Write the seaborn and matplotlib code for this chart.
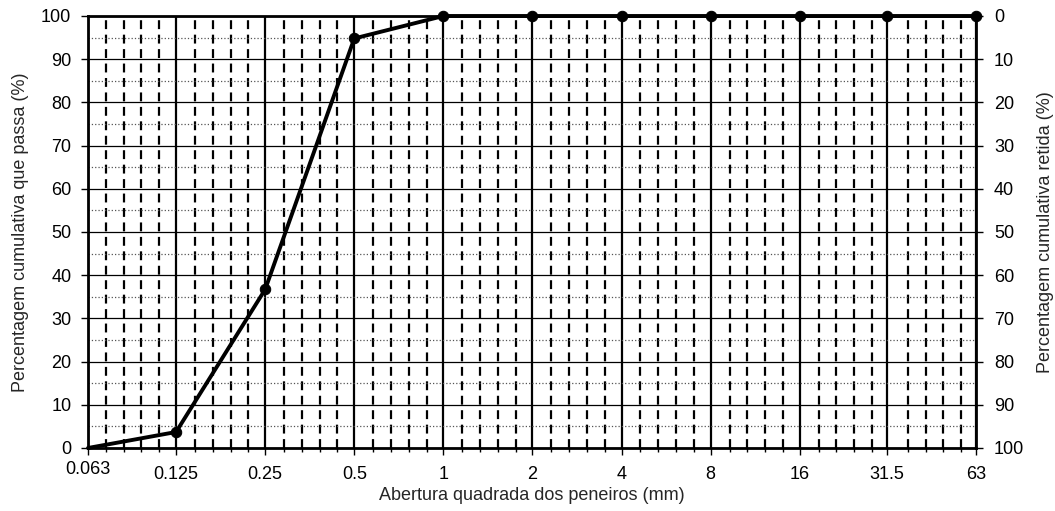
import matplotlib
matplotlib.use('Agg')
import matplotlib.pyplot as plt
import matplotlib.ticker as mticker
from matplotlib.transforms import ScaledTranslation
import seaborn as sns
import pandas as pd

# sieve openings (mm) and cumulative % passing
sieves = [0.063, 0.125, 0.25, 0.5, 1, 2, 4, 8, 16, 31.5, 63]
passing = [0, 3.7, 36.7, 94.8, 100, 100, 100, 100, 100, 100, 100]
tick_labels = ['0.063', '0.125', '0.25', '0.5', '1', '2', '4', '8', '16', '31.5', '63']
y_ticks = list(range(0, 101, 10))

sns.set_style('white')
plt.rcParams['font.family'] = ['Liberation Sans', 'DejaVu Sans']

fig = plt.figure(figsize=(10.55, 5.11), dpi=100)
ax = fig.add_axes([0.0834, 0.1233, 0.8417, 0.8454])

df = pd.DataFrame({'abertura': sieves, 'passa': passing})
sns.lineplot(data=df, x='abertura', y='passa', ax=ax, color='black',
             linewidth=2.8, marker='o', markersize=7.5, markevery=list(range(1, len(sieves))),
             markeredgecolor='black', clip_on=False, zorder=5)

ax.set_xscale('log', base=2)
ax.set_xlim(0.063, 63)
ax.set_ylim(0, 100)

# major x ticks at each sieve, minor dashed lines dividing each interval in 5
ax.xaxis.set_major_locator(mticker.FixedLocator(sieves))
ax.xaxis.set_major_formatter(mticker.FixedFormatter(tick_labels))
minor = [0.063 * 2 ** (i + j / 5) for i in range(10) for j in range(1, 5)]
ax.xaxis.set_minor_locator(mticker.FixedLocator(minor))
ax.xaxis.set_minor_formatter(mticker.NullFormatter())

ax.yaxis.set_major_locator(mticker.FixedLocator(y_ticks))
ax.yaxis.set_minor_locator(mticker.MultipleLocator(5))

ax.grid(axis='x', which='major', color='black', linewidth=1.6, linestyle='-')
ax.grid(axis='x', which='minor', color='black', linewidth=1.6, linestyle=(0, (4, 2.5)))
ax.grid(axis='y', which='major', color='black', linewidth=0.9, linestyle='-')
ax.grid(axis='y', which='minor', color='#555555', linewidth=0.9, linestyle=':')
ax.set_axisbelow(True)

ax.tick_params(axis='both', which='major', direction='out', length=5, width=1,
               labelsize=13, colors='black', bottom=True, left=True)
ax.tick_params(axis='y', which='minor', length=0)
ax.tick_params(axis='x', which='minor', direction='out', length=3, width=1,
               colors='black', bottom=True)
ax.tick_params(axis='x', which='major', pad=8)
ax.tick_params(axis='y', pad=7)

for sp in ax.spines.values():
    sp.set_color('black')
    sp.set_linewidth(2)

ax.set_xlabel('Abertura quadrada dos peneiros (mm)', fontsize=13, labelpad=3)
ax.set_ylabel('Percentagem cumulativa que passa (%)', fontsize=13, labelpad=9)

# first label sits a little higher in the original
lbl = ax.get_xticklabels()[0]
lbl.set_transform(lbl.get_transform() + ScaledTranslation(0, 3.5 / 72, fig.dpi_scale_trans))

ax2 = ax.twinx()
ax2.set_ylim(100, 0)
ax2.yaxis.set_major_locator(mticker.FixedLocator(y_ticks))
ax2.tick_params(axis='y', direction='out', length=5, width=1, labelsize=13,
                colors='black', right=True, pad=8)
ax2.set_ylabel('Percentagem cumulativa retida (%)', fontsize=13, labelpad=9)
ax2.grid(False)
for sp in ax2.spines.values():
    sp.set_visible(False)

fig.savefig('out.png', dpi=100)
